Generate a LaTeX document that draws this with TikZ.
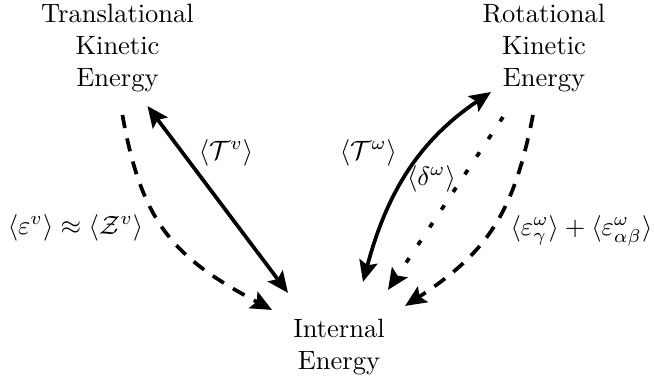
\documentclass[tikz,border=0pt]{standalone}
\usepackage{amsmath,amssymb}
\usepackage{tikz}
\usetikzlibrary{
arrows.meta,
positioning
}

\begin{document}
\begin{tikzpicture}[
    x=1cm,
    y=1cm,
    >={Stealth[length=8pt,width=7pt,inset=1.5pt]},
    energy/.style={
        align=center,
        inner sep=0pt
    },
    flow/.style={
        line width=1.4pt
    },
    dashflow/.style={
        line width=1.4pt,
        dash pattern=on 5pt off 4pt
    },
    dotflow/.style={
        line width=1.4pt,
        dash pattern=on 2pt off 6pt
    },
    lbl/.style={
        inner sep=1pt
    }
]

\useasboundingbox (0,0) rectangle (8.679,5.122);

% =====================================================
% ENERGY RESERVOIRS
% =====================================================
\node[energy] (trans) at (1.559,4.485)
{Translational\\Kinetic\\Energy};

\node[energy] (rot) at (7.219,4.485)
{Rotational\\Kinetic\\Energy};

\node[energy] (int) at (4.499,0.518)
{Internal\\Energy};

% =====================================================
% TRANSLATIONAL <-> INTERNAL
% =====================================================
\draw[
    <->,
    flow
]
([shift={(0.398,-0.770)}]trans.center) -- ([shift={(-0.677,0.717)}]int.center);

\draw[
    ->,
    dashflow
]
([shift={(0.066,-0.889)}]trans.center)
to[out=-80,in=152,looseness=1.15]
([shift={(-0.889,0.491)}]int.center);

% =====================================================
% ROTATIONAL <-> INTERNAL
% =====================================================
\draw[
    <->,
    flow
]
([shift={(0.318,0.863)}]int.center)
to[out=75,in=-146]
([shift={(-0.703,-0.584)}]rot.center);

\draw[
    ->,
    dotflow
]
([shift={(-0.544,-0.916)}]rot.center) -- ([shift={(0.650,0.756)}]int.center);

\draw[
    ->,
    dashflow
]
([shift={(-0.146,-0.889)}]rot.center)
to[out=-101,in=33,looseness=1.1]
([shift={(0.876,0.544)}]int.center);

% =====================================================
% TRANSFER LABELS
% =====================================================
\node[lbl] (tv) at (3.000,3.092) {$\langle \mathcal{T}^{v} \rangle$};

\node[lbl] (ev) at (1.002,2.097)
{$\langle \varepsilon^{v} \rangle \approx \langle \mathcal{Z}^{v} \rangle$};

\node[lbl] (tw) at (4.890,3.092) {$\langle \mathcal{T}^{\omega} \rangle$};

\node[lbl] (dw) at (5.726,2.747) {$\langle \delta^{\omega} \rangle$};

\node[lbl] (ew) at (7.717,2.057)
{$\langle \varepsilon^{\omega}_{\gamma} \rangle + \langle \varepsilon^{\omega}_{\alpha\beta} \rangle$};

\end{tikzpicture}
\end{document}
